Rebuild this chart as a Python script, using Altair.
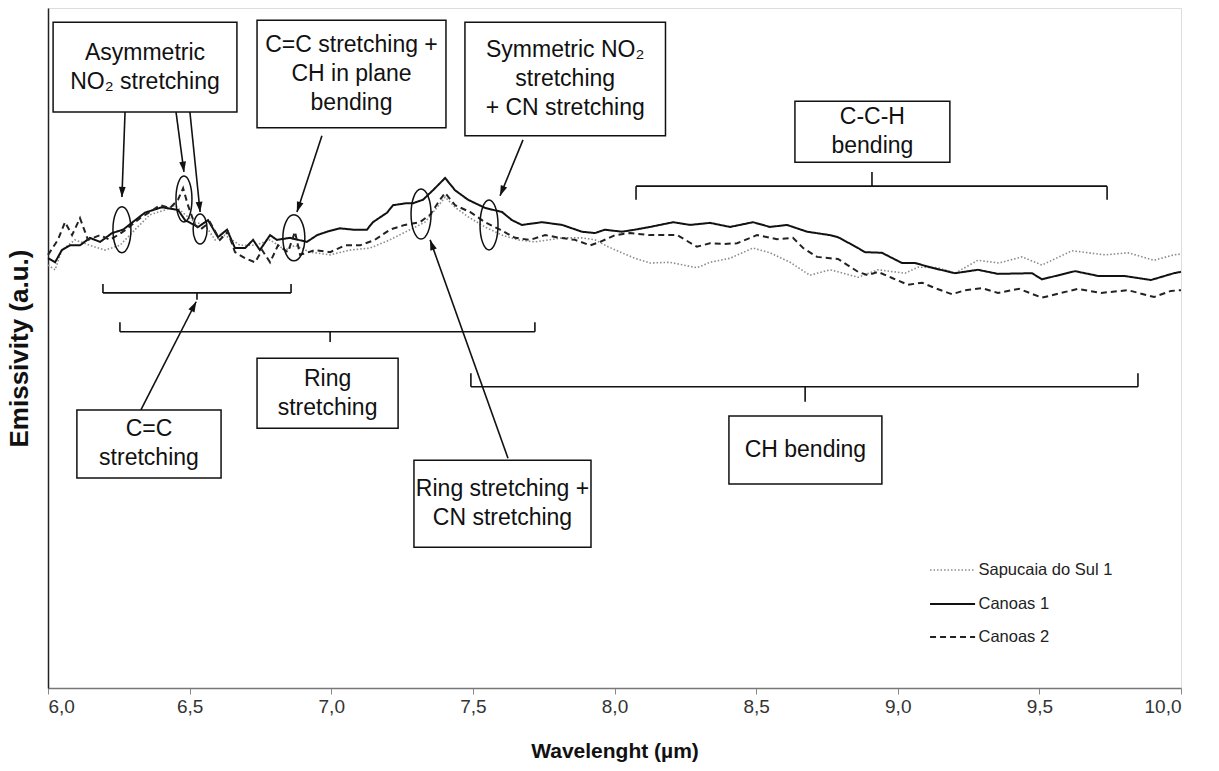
import math
import altair as alt
import pandas as pd

# ---------------- series data (wavelength in µm, emissivity in a.u.) ----------------
sapucaia_wl = [6.000, 6.025, 6.049, 6.095, 6.148, 6.201, 6.254, 6.307, 6.360, 6.413,
               6.448, 6.484, 6.519, 6.554, 6.590, 6.625, 6.678, 6.731, 6.784, 6.837,
               6.872, 6.925, 6.996, 7.066, 7.137, 7.207, 7.278, 7.331, 7.366, 7.402,
               7.437, 7.483, 7.543, 7.603, 7.659, 7.719, 7.815, 7.885, 7.931, 7.977,
               8.026, 8.072, 8.125, 8.196, 8.291, 8.337, 8.408, 8.489, 8.549, 8.620,
               8.690, 8.761, 8.789, 8.860, 8.930, 9.026, 9.072, 9.142, 9.202, 9.283,
               9.357, 9.439, 9.509, 9.615, 9.732, 9.813, 9.905, 9.975, 10.0]
sapucaia_em = [0.622, 0.615, 0.644, 0.659, 0.651, 0.644, 0.651, 0.674, 0.696, 0.703,
               0.710, 0.696, 0.685, 0.681, 0.659, 0.666, 0.651, 0.651, 0.659, 0.644,
               0.651, 0.641, 0.637, 0.644, 0.647, 0.659, 0.674, 0.685, 0.703, 0.722,
               0.707, 0.693, 0.678, 0.666, 0.659, 0.656, 0.662, 0.662, 0.659, 0.649,
               0.640, 0.632, 0.625, 0.626, 0.618, 0.626, 0.632, 0.647, 0.640, 0.626,
               0.607, 0.615, 0.612, 0.604, 0.615, 0.610, 0.619, 0.618, 0.610, 0.629,
               0.625, 0.634, 0.622, 0.643, 0.637, 0.640, 0.629, 0.637, 0.638]

canoas1_wl = [6.000, 6.025, 6.049, 6.078, 6.113, 6.148, 6.184, 6.226, 6.265, 6.342,
              6.402, 6.459, 6.484, 6.530, 6.565, 6.600, 6.632, 6.660, 6.696, 6.724,
              6.748, 6.784, 6.808, 6.854, 6.914, 6.950, 6.985, 7.031, 7.077, 7.126,
              7.147, 7.197, 7.218, 7.267, 7.289, 7.324, 7.359, 7.402, 7.437, 7.483,
              7.543, 7.603, 7.638, 7.673, 7.744, 7.815, 7.885, 7.931, 7.966, 8.026,
              8.072, 8.125, 8.207, 8.267, 8.337, 8.408, 8.489, 8.549, 8.609, 8.680,
              8.761, 8.789, 8.860, 8.884, 8.944, 9.015, 9.061, 9.121, 9.202, 9.283,
              9.354, 9.474, 9.509, 9.626, 9.707, 9.799, 9.894, 9.975, 10.0]
canoas1_em = [0.632, 0.626, 0.644, 0.651, 0.651, 0.662, 0.656, 0.669, 0.674, 0.699,
              0.707, 0.703, 0.688, 0.678, 0.688, 0.663, 0.674, 0.647, 0.647, 0.659,
              0.644, 0.666, 0.659, 0.662, 0.656, 0.666, 0.671, 0.676, 0.674, 0.674,
              0.685, 0.699, 0.710, 0.713, 0.713, 0.718, 0.732, 0.750, 0.732, 0.718,
              0.706, 0.700, 0.688, 0.681, 0.685, 0.681, 0.671, 0.669, 0.674, 0.671,
              0.674, 0.678, 0.685, 0.681, 0.684, 0.678, 0.685, 0.678, 0.681, 0.671,
              0.666, 0.663, 0.647, 0.641, 0.640, 0.625, 0.625, 0.618, 0.610, 0.615,
              0.609, 0.610, 0.601, 0.613, 0.606, 0.606, 0.600, 0.610, 0.612]

canoas2_wl = [6.000, 6.035, 6.060, 6.085, 6.113, 6.141, 6.184, 6.219, 6.265, 6.325,
              6.360, 6.395, 6.431, 6.459, 6.477, 6.494, 6.519, 6.537, 6.572, 6.607,
              6.635, 6.660, 6.696, 6.731, 6.756, 6.784, 6.812, 6.847, 6.872, 6.890,
              6.943, 6.996, 7.049, 7.102, 7.154, 7.207, 7.260, 7.313, 7.349, 7.384,
              7.402, 7.437, 7.490, 7.543, 7.596, 7.649, 7.702, 7.755, 7.808, 7.861,
              7.914, 7.949, 8.002, 8.055, 8.125, 8.221, 8.291, 8.337, 8.383, 8.433,
              8.503, 8.574, 8.630, 8.666, 8.715, 8.761, 8.789, 8.860, 8.895, 8.930,
              8.980, 9.036, 9.086, 9.132, 9.192, 9.237, 9.297, 9.354, 9.428, 9.509,
              9.636, 9.718, 9.813, 9.905, 9.965, 10.0]
canoas2_em = [0.637, 0.659, 0.685, 0.666, 0.691, 0.659, 0.666, 0.659, 0.671, 0.691,
              0.700, 0.710, 0.706, 0.718, 0.735, 0.710, 0.681, 0.674, 0.685, 0.659,
              0.671, 0.641, 0.632, 0.626, 0.644, 0.626, 0.651, 0.641, 0.671, 0.637,
              0.644, 0.641, 0.651, 0.651, 0.659, 0.674, 0.681, 0.685, 0.696, 0.718,
              0.728, 0.710, 0.700, 0.685, 0.674, 0.662, 0.659, 0.666, 0.662, 0.659,
              0.651, 0.656, 0.666, 0.669, 0.666, 0.666, 0.649, 0.654, 0.653, 0.654,
              0.666, 0.660, 0.662, 0.647, 0.634, 0.632, 0.631, 0.612, 0.607, 0.612,
              0.603, 0.593, 0.596, 0.588, 0.579, 0.585, 0.588, 0.581, 0.587, 0.574,
              0.587, 0.581, 0.585, 0.575, 0.584, 0.585]

series_names = ["Sapucaia do Sul 1", "Canoas 1", "Canoas 2"]
tick_values = [6.0, 6.5, 7.0, 7.5, 8.0, 8.5, 9.0, 9.5, 10.0]

# ---------------- annotation texts ----------------
box_texts = [
    "Asymmetric\nNO\u2082 stretching",
    "C=C stretching +\nCH in plane\nbending",
    "Symmetric NO\u2082\nstretching\n+ CN stretching",
    "C-C-H\nbending",
    "C=C\nstretching",
    "Ring\nstretching",
    "Ring stretching +\nCN stretching",
    "CH bending",
]

# ---------------- layout constants ----------------
W, H = 1133, 680
XMIN, XMAX = 6.0, 10.0
PX_X = W / (XMAX - XMIN)   # pixels per µm
PX_Y = H / 1.0             # pixels per emissivity unit
FONT = "Liberation Sans"
XT = "Wavelenght (µm)"
YT = "Emissivity (a.u.)"
BOX_FS = 23
BOX_LH = 29

x_scale = alt.Scale(domain=[XMIN, XMAX], nice=False, zero=False)
y_scale = alt.Scale(domain=[0, 1], nice=False, zero=False)

x_axis = alt.Axis(
    values=tick_values,
    labelExpr="replace(format(datum.value, '.1f'), '.', ',')",
    labelFont=FONT, labelFontSize=19, labelColor="#333333", labelPadding=3,
    tickSize=6, tickColor="#888888", tickWidth=1,
    domainColor="#777777", domainWidth=1.5, grid=False,
    titleFont=FONT, titleFontSize=21, titleFontWeight="bold", titleColor="#111111",
    titlePadding=24,
)
y_axis = alt.Axis(
    labels=False, ticks=False, grid=False, domainColor="#222222", domainWidth=1.5,
    titleFont=FONT, titleFontSize=26, titleFontWeight="bold", titleColor="#111111",
    titleX=-29, titleY=340, titleAngle=270, titleBaseline="middle", titleAlign="center",
)


def X(field):
    return alt.X(field, scale=x_scale, title=XT)


def Y(field):
    return alt.Y(field, scale=y_scale, title=YT)


# ---------------- series layers ----------------
styles = {
    "Sapucaia do Sul 1": dict(color="#8a8a8a", strokeDash=[1.5, 2], strokeWidth=1.6),
    "Canoas 1": dict(color="#111111", strokeDash=[1, 0], strokeWidth=2),
    "Canoas 2": dict(color="#222222", strokeDash=[6, 4], strokeWidth=2),
}
series_data = {
    "Sapucaia do Sul 1": (sapucaia_wl, sapucaia_em),
    "Canoas 1": (canoas1_wl, canoas1_em),
    "Canoas 2": (canoas2_wl, canoas2_em),
}

layers = []
first = True
for name in series_names:
    wl, em = series_data[name]
    df = pd.DataFrame({"wl": wl, "em": em})
    if first:
        enc = dict(x=alt.X("wl:Q", scale=x_scale, axis=x_axis, title=XT),
                   y=alt.Y("em:Q", scale=y_scale, axis=y_axis, title=YT))
        first = False
    else:
        enc = dict(x=X("wl:Q"), y=Y("em:Q"))
    layers.append(alt.Chart(df).mark_line(**styles[name]).encode(**enc))

# ---------------- brackets ----------------
# (x_left, x_right, y_bar, y_ends, x_mid, y_mid)
brackets = [
    (8.076, 9.739, 0.738, 0.718, 8.909, 0.759),
    (6.194, 6.858, 0.581, 0.594, 6.526, 0.571),
    (6.254, 7.719, 0.524, 0.538, 6.996, 0.509),
    (7.493, 9.848, 0.443, 0.463, 8.673, 0.421),
]
seg = []
for xl, xr, yb, ye, xm, ym in brackets:
    seg.append((xl, yb, xr, yb))
    seg.append((xl, yb, xl, ye))
    seg.append((xr, yb, xr, ye))
    seg.append((xm, yb, xm, ym))

# ---------------- arrows ----------------
arrows = [
    (6.272, 0.847, 6.261, 0.722),
    (6.452, 0.847, 6.480, 0.759),
    (6.501, 0.847, 6.537, 0.700),
    (6.967, 0.812, 6.879, 0.700),
    (7.677, 0.806, 7.596, 0.724),
    (7.624, 0.338, 7.349, 0.659),
    (6.328, 0.409, 6.523, 0.568),
]
heads = []
for x1, y1, x2, y2 in arrows:
    seg.append((x1, y1, x2, y2))
    dxp = (x2 - x1) * PX_X
    dyp = -(y2 - y1) * PX_Y
    L = math.hypot(dxp, dyp)
    ux, uy = dxp / L, dyp / L
    ang = math.degrees(math.atan2(ux, -uy)) % 360
    heads.append({"x": x2 - 5 * ux / PX_X, "y": y2 + 5 * uy / PX_Y, "ang": ang})

seg_df = pd.DataFrame(seg, columns=["x", "y", "x2", "y2"])
layers.append(
    alt.Chart(seg_df).mark_rule(color="#111111", strokeWidth=1.6).encode(
        x=X("x:Q"), y=Y("y:Q"), x2="x2:Q", y2="y2:Q")
)
head_df = pd.DataFrame(heads)
layers.append(
    alt.Chart(head_df).mark_point(shape="M0,-1 L-0.65,1 L0.65,1 Z", filled=True,
                                  color="#111111", opacity=1, size=110).encode(
        x=X("x:Q"), y=Y("y:Q"), angle=alt.Angle("ang:Q", scale=None))
)

# ---------------- ellipses ----------------
# (x, y, width_px, height_px)
ellipses = [
    (6.261, 0.674, 18, 46),
    (6.480, 0.719, 16, 46),
    (6.537, 0.675, 14, 30),
    (6.868, 0.662, 22, 46),
    (7.317, 0.697, 20, 50),
    (7.557, 0.681, 18, 50),
]
k = 0.5523
ell_rows = []
for ex, ey, w, h in ellipses:
    a = w / h
    p = (f"M0,-1 C{k*a:.3f},-1 {a:.3f},{-k:.3f} {a:.3f},0 "
         f"C{a:.3f},{k:.3f} {k*a:.3f},1 0,1 "
         f"C{-k*a:.3f},1 {-a:.3f},{k:.3f} {-a:.3f},0 "
         f"C{-a:.3f},{-k:.3f} {-k*a:.3f},-1 0,-1 Z")
    ell_rows.append({"x": ex, "y": ey, "path": p, "size": h * h})
ell_df = pd.DataFrame(ell_rows)
layers.append(
    alt.Chart(ell_df).mark_point(filled=False, stroke="#111111", strokeWidth=1.5,
                                 opacity=1).encode(
        x=X("x:Q"), y=Y("y:Q"),
        shape=alt.Shape("path:N", scale=None, legend=None),
        size=alt.Size("size:Q", scale=None, legend=None))
)

# ---------------- text boxes ----------------
boxes = [
    (6.018, 6.667, 0.979, 0.847),
    (6.738, 7.405, 0.982, 0.824),
    (7.472, 8.180, 0.979, 0.812),
    (8.637, 9.184, 0.863, 0.773),
    (6.102, 6.611, 0.409, 0.309),
    (6.738, 7.236, 0.485, 0.382),
    (7.292, 7.917, 0.335, 0.207),
    (8.404, 8.944, 0.400, 0.300),
]
box_df = pd.DataFrame(boxes, columns=["x", "x2", "y", "y2"])
box_df["label"] = box_texts
box_df["cx"] = (box_df["x"] + box_df["x2"]) / 2
n_lines = box_df["label"].str.count("\n")
box_df["cy"] = (box_df["y"] + box_df["y2"]) / 2 + n_lines * BOX_LH / 2 / PX_Y
layers.append(
    alt.Chart(box_df).mark_rect(fill="white", stroke="#111111", strokeWidth=1.5).encode(
        x=X("x:Q"), x2="x2:Q", y=Y("y:Q"), y2="y2:Q")
)
layers.append(
    alt.Chart(box_df).mark_text(font=FONT, fontSize=BOX_FS, lineBreak="\n",
                                lineHeight=BOX_LH, align="center", baseline="middle",
                                color="#111111").encode(
        x=X("cx:Q"), y=Y("cy:Q"), text="label:N")
)

# ---------------- manual legend ----------------
leg_y = [0.1735, 0.1235, 0.075]
for name, ly in zip(series_names, leg_y):
    ldf = pd.DataFrame({"wl": [9.114, 9.273], "em": [ly, ly]})
    layers.append(alt.Chart(ldf).mark_line(**styles[name]).encode(x=X("wl:Q"), y=Y("em:Q")))
leg_txt = pd.DataFrame({"wl": [9.285] * 3, "em": leg_y, "label": series_names})
layers.append(
    alt.Chart(leg_txt).mark_text(font=FONT, fontSize=16.5, align="left", baseline="middle",
                                 color="#222222").encode(
        x=X("wl:Q"), y=Y("em:Q"), text="label:N")
)

chart = alt.layer(*layers).properties(
    width=W, height=H,
    autosize=alt.AutoSizeParams(type="none"),
    padding={"left": 48, "top": 8, "right": 38, "bottom": 83},
    background="white",
).configure_view(stroke="#222222", strokeWidth=1.5).configure(font=FONT)

chart.save("out.html", embed_options={"renderer": "svg", "actions": False})
